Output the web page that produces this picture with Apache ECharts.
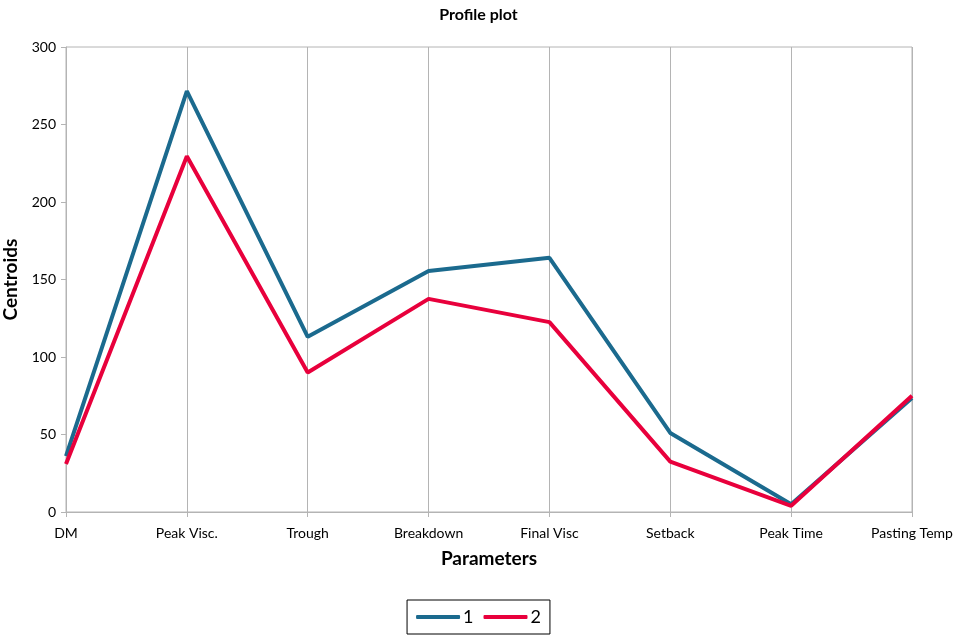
<!DOCTYPE html>
<html><head><meta charset="utf-8">
<script src="https://cdn.jsdelivr.net/npm/echarts@6/dist/echarts.min.js"></script>
<style>html,body{margin:0;padding:0;background:#fff}#c{width:957px;height:640px}</style>
</head><body><div id="c"></div>
<script>
const categories = ['DM','Peak Visc.','Trough','Breakdown','Final Visc','Setback','Peak Time','Pasting Temp'];
const series1 = [36, 271.5, 113, 155.5, 164, 51, 5, 73.5];
const series2 = [31, 229.5, 90, 137.5, 122.5, 32.5, 4, 75];
const yTicks = [0, 50, 100, 150, 200, 250, 300];
const FONT = 'Lato';
const chart = echarts.init(document.getElementById('c'));
chart.setOption({
  animation: false,
  textStyle: { fontFamily: FONT },
  title: { text: 'Profile plot', left: 'center', top: 2, textStyle: { fontFamily: FONT, fontSize: 16, fontWeight: 'bold', color: '#000' } },
  grid: { left: 66, right: 45, top: 47, bottom: 128, show: true, borderColor: '#b4b4b4', borderWidth: 1, containLabel: false, outerBoundsMode: 'none' },
  legend: {
    bottom: 6, left: 'center', data: ['1', '2'],
    itemWidth: 44, itemHeight: 4, itemGap: 10,
    borderColor: '#000', borderWidth: 1, padding: [8, 9, 8, 9],
    textStyle: { fontFamily: FONT, fontSize: 18, color: '#000', padding: [0, 0, 0, -2] },
    icon: 'roundRect'
  },
  xAxis: {
    type: 'category', data: categories, boundaryGap: false,
    name: 'Parameters', nameLocation: 'middle', nameGap: 37,
    nameTextStyle: { fontFamily: FONT, fontSize: 19, fontWeight: 'bold', color: '#000' },
    axisLine: { lineStyle: { color: '#b4b4b4', width: 1 } },
    axisTick: { show: true, length: 5, lineStyle: { color: '#b4b4b4' } },
    axisLabel: { color: '#000', fontSize: 14, margin: 14, fontFamily: FONT },
    splitLine: { show: true, lineStyle: { color: '#b4b4b4', width: 1 } }
  },
  yAxis: {
    type: 'value', min: 0, max: 300, interval: 50,
    name: 'Centroids', nameLocation: 'middle', nameGap: 41, nameRotate: 90,
    nameTextStyle: { fontFamily: FONT, fontSize: 19, fontWeight: 'bold', color: '#000' },
    axisLine: { show: true, lineStyle: { color: '#b4b4b4', width: 1 } },
    axisTick: { show: true, length: 5, lineStyle: { color: '#b4b4b4' } },
    axisLabel: { color: '#000', fontSize: 14, margin: 10, fontFamily: FONT,
      formatter: v => yTicks.includes(v) ? String(v) : '' },
    splitLine: { show: false }
  },
  series: [
    { name: '1', type: 'line', data: series1, symbol: 'none', lineStyle: { color: '#1b6a8e', width: 4 }, itemStyle: { color: '#1b6a8e' } },
    { name: '2', type: 'line', data: series2, symbol: 'none', lineStyle: { color: '#e8003c', width: 4 }, itemStyle: { color: '#e8003c' } }
  ]
});
</script></body></html>
